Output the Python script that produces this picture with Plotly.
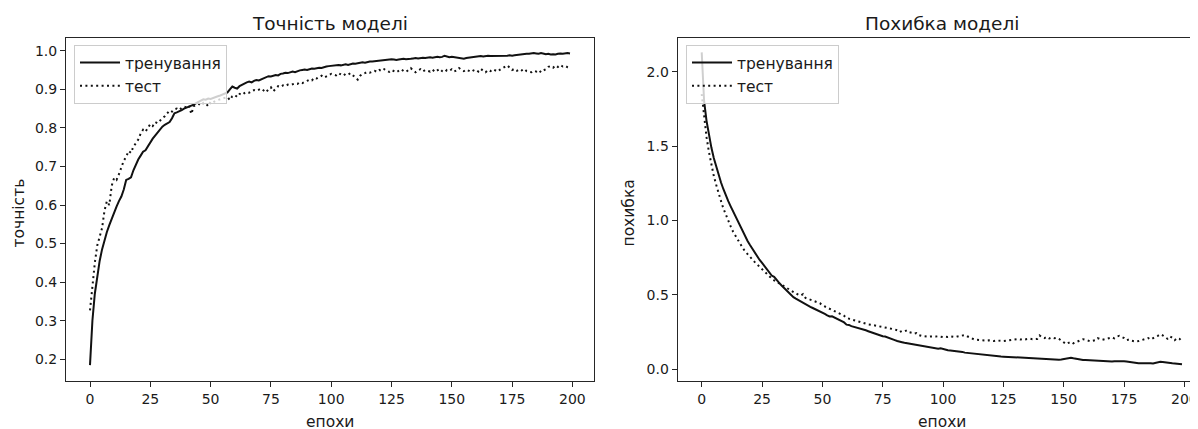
import plotly.graph_objects as go

W, H = 1198, 429

epochs = list(range(200))

acc_train = [
    0.185, 0.300, 0.370, 0.420, 0.455, 0.485, 0.510, 0.530, 0.548, 0.565,
    0.580, 0.596, 0.610, 0.622, 0.640, 0.665, 0.668, 0.672, 0.690, 0.705,
    0.718, 0.728, 0.738, 0.742, 0.752, 0.765, 0.772, 0.780, 0.788, 0.795,
    0.803, 0.808, 0.812, 0.815, 0.825, 0.838, 0.840, 0.842, 0.846, 0.850,
    0.852, 0.855, 0.858, 0.860, 0.864, 0.868, 0.870, 0.874, 0.873, 0.876,
    0.875, 0.878, 0.880, 0.882, 0.884, 0.886, 0.888, 0.892, 0.900, 0.907,
    0.904, 0.902, 0.908, 0.912, 0.915, 0.918, 0.920, 0.918, 0.922, 0.924,
    0.923, 0.926, 0.928, 0.932, 0.934, 0.933, 0.935, 0.937, 0.936, 0.940,
    0.941, 0.943, 0.942, 0.945, 0.946, 0.944, 0.947, 0.949, 0.950, 0.951,
    0.950, 0.952, 0.954, 0.953, 0.955, 0.956, 0.955, 0.958, 0.959, 0.960,
    0.961, 0.960, 0.962, 0.963, 0.962, 0.964, 0.965, 0.963, 0.966, 0.967,
    0.966, 0.968, 0.969, 0.970, 0.969, 0.971, 0.972, 0.972, 0.973, 0.974,
    0.974, 0.975, 0.976, 0.976, 0.977, 0.978, 0.977, 0.976, 0.977, 0.978,
    0.979, 0.978, 0.978, 0.979, 0.980, 0.981, 0.980, 0.981, 0.982, 0.981,
    0.982, 0.983, 0.982, 0.983, 0.984, 0.983, 0.984, 0.987, 0.984, 0.983,
    0.984, 0.983, 0.982, 0.981, 0.980, 0.979, 0.981, 0.982, 0.983, 0.984,
    0.985, 0.985, 0.986, 0.985, 0.986, 0.987, 0.986, 0.986, 0.987, 0.986,
    0.987, 0.986, 0.987, 0.987, 0.988, 0.987, 0.988, 0.989, 0.990, 0.990,
    0.991, 0.992, 0.992, 0.993, 0.994, 0.993, 0.992, 0.994, 0.993, 0.991,
    0.992, 0.990, 0.991, 0.990, 0.992, 0.993, 0.992, 0.993, 0.994, 0.993,
]

acc_test = [
    0.327, 0.395, 0.450, 0.495, 0.515, 0.540, 0.585, 0.610, 0.600, 0.650,
    0.670, 0.665, 0.680, 0.700, 0.715, 0.725, 0.740, 0.735, 0.752, 0.760,
    0.770, 0.785, 0.795, 0.790, 0.800, 0.810, 0.805, 0.815, 0.812, 0.820,
    0.825, 0.830, 0.838, 0.845, 0.842, 0.848, 0.850, 0.846, 0.852, 0.855,
    0.853, 0.858, 0.836, 0.856, 0.860, 0.862, 0.858, 0.865, 0.864, 0.856,
    0.868, 0.866, 0.870, 0.872, 0.874, 0.876, 0.878, 0.880, 0.872, 0.882,
    0.885, 0.880, 0.888, 0.885, 0.890, 0.893, 0.891, 0.895, 0.898, 0.896,
    0.900, 0.902, 0.897, 0.892, 0.900, 0.905, 0.895, 0.903, 0.908, 0.906,
    0.910, 0.908, 0.912, 0.911, 0.913, 0.915, 0.914, 0.918, 0.916, 0.920,
    0.922, 0.925, 0.923, 0.930, 0.928, 0.932, 0.935, 0.930, 0.934, 0.938,
    0.940, 0.938, 0.936, 0.942, 0.939, 0.935, 0.940, 0.938, 0.942, 0.936,
    0.930, 0.925, 0.935, 0.940, 0.942, 0.945, 0.943, 0.946, 0.948, 0.945,
    0.950, 0.947, 0.952, 0.948, 0.945, 0.950, 0.946, 0.944, 0.948, 0.952,
    0.947, 0.945, 0.950, 0.955, 0.948, 0.944, 0.949, 0.952, 0.946, 0.950,
    0.948, 0.946, 0.951, 0.945, 0.949, 0.953, 0.947, 0.944, 0.950, 0.948,
    0.952, 0.946, 0.949, 0.955, 0.950, 0.947, 0.951, 0.948, 0.945, 0.949,
    0.951, 0.946, 0.953, 0.948, 0.944, 0.950, 0.947, 0.952, 0.949, 0.946,
    0.951, 0.955, 0.958, 0.962, 0.956, 0.950, 0.953, 0.948, 0.952, 0.949,
    0.953, 0.947, 0.945, 0.944, 0.948, 0.946, 0.950, 0.944, 0.949, 0.952,
    0.958, 0.960, 0.956, 0.962, 0.958, 0.963, 0.959, 0.961, 0.957, 0.955,
]

loss_train = [
    2.130, 1.800, 1.670, 1.570, 1.490, 1.420, 1.360, 1.300, 1.255, 1.210,
    1.165, 1.130, 1.095, 1.060, 1.025, 0.990, 0.958, 0.926, 0.895, 0.862,
    0.835, 0.808, 0.782, 0.758, 0.735, 0.715, 0.695, 0.672, 0.650, 0.630,
    0.622, 0.600, 0.582, 0.565, 0.548, 0.530, 0.515, 0.502, 0.485, 0.475,
    0.465, 0.455, 0.445, 0.436, 0.428, 0.420, 0.412, 0.405, 0.398, 0.390,
    0.382, 0.372, 0.362, 0.355, 0.356, 0.348, 0.338, 0.332, 0.325, 0.315,
    0.300, 0.298, 0.290, 0.286, 0.282, 0.276, 0.272, 0.268, 0.262, 0.256,
    0.250, 0.246, 0.240, 0.232, 0.226, 0.222, 0.220, 0.215, 0.210, 0.206,
    0.196, 0.190, 0.184, 0.182, 0.178, 0.175, 0.176, 0.170, 0.166, 0.164,
    0.160, 0.158, 0.155, 0.152, 0.150, 0.146, 0.142, 0.140, 0.138, 0.141,
    0.136, 0.130, 0.128, 0.126, 0.124, 0.122, 0.120, 0.121, 0.117, 0.112,
    0.110, 0.108, 0.106, 0.104, 0.102, 0.100, 0.098, 0.096, 0.094, 0.093,
    0.092, 0.090, 0.089, 0.087, 0.086, 0.085, 0.084, 0.083, 0.082, 0.080,
    0.079, 0.078, 0.080, 0.077, 0.075, 0.074, 0.073, 0.072, 0.071, 0.070,
    0.069, 0.070, 0.068, 0.068, 0.067, 0.069, 0.066, 0.065, 0.064, 0.066,
    0.068, 0.072, 0.075, 0.078, 0.074, 0.070, 0.067, 0.065, 0.063, 0.062,
    0.061, 0.060, 0.058, 0.059, 0.057, 0.056, 0.055, 0.053, 0.052, 0.051,
    0.052, 0.054, 0.055, 0.053, 0.056, 0.054, 0.052, 0.049, 0.047, 0.045,
    0.043, 0.041, 0.040, 0.041, 0.040, 0.042, 0.041, 0.039, 0.043, 0.046,
    0.050, 0.049, 0.046, 0.044, 0.042, 0.040, 0.039, 0.037, 0.035, 0.034,
]

loss_test = [
    1.850, 1.700, 1.560, 1.460, 1.370, 1.300, 1.240, 1.180, 1.130, 1.080,
    1.035, 0.995, 0.960, 0.925, 0.895, 0.865, 0.840, 0.815, 0.792, 0.772,
    0.755, 0.738, 0.720, 0.704, 0.688, 0.672, 0.655, 0.640, 0.622, 0.610,
    0.598, 0.588, 0.578, 0.565, 0.555, 0.545, 0.535, 0.526, 0.518, 0.510,
    0.502, 0.495, 0.505, 0.480, 0.474, 0.468, 0.460, 0.455, 0.450, 0.444,
    0.430, 0.422, 0.414, 0.406, 0.400, 0.392, 0.385, 0.378, 0.368, 0.360,
    0.345, 0.340, 0.335, 0.330, 0.325, 0.320, 0.314, 0.310, 0.306, 0.302,
    0.300, 0.297, 0.295, 0.292, 0.289, 0.286, 0.284, 0.282, 0.279, 0.276,
    0.268, 0.262, 0.250, 0.258, 0.255, 0.262, 0.250, 0.246, 0.240, 0.244,
    0.230, 0.225, 0.222, 0.220, 0.219, 0.221, 0.218, 0.220, 0.222, 0.219,
    0.216, 0.220, 0.218, 0.222, 0.219, 0.217, 0.221, 0.223, 0.225, 0.230,
    0.222, 0.215, 0.206, 0.200, 0.198, 0.196, 0.194, 0.195, 0.193, 0.195,
    0.192, 0.190, 0.194, 0.191, 0.193, 0.190, 0.192, 0.195, 0.198, 0.202,
    0.205, 0.203, 0.200, 0.204, 0.201, 0.203, 0.206, 0.202, 0.205, 0.204,
    0.228, 0.215, 0.210, 0.218, 0.207, 0.213, 0.209, 0.212, 0.205, 0.195,
    0.180, 0.170, 0.178, 0.185, 0.175, 0.182, 0.190, 0.196, 0.202, 0.198,
    0.193, 0.188, 0.192, 0.196, 0.210, 0.205, 0.198, 0.202, 0.206, 0.212,
    0.215, 0.208, 0.220, 0.225, 0.218, 0.210, 0.195, 0.200, 0.192, 0.188,
    0.186, 0.190, 0.195, 0.200, 0.205, 0.210, 0.200, 0.212, 0.218, 0.225,
    0.235, 0.228, 0.215, 0.205, 0.222, 0.212, 0.196, 0.210, 0.205, 0.186,
]

series_names = ["тренування", "тест"]
titles = ["Точність моделі", "Похибка моделі"]
xlabel = "епохи"
ylabels = ["точність", "похибка"]

FONT = "DejaVu Sans"
TXT = "#1a1a1a"
AX = "#262626"

# the page body adds an 8px margin; work in screen pixels and shift
OFF = 8.0


def px_x(p):
    return (p - OFF) / W


def px_y(p):
    return 1 - (p - OFF) / H


fig = go.Figure()

solid = dict(color="#111111", width=2)
dotted = dict(color="#111111", width=2, dash="2px,3.4px")

fig.add_trace(go.Scatter(x=epochs, y=acc_train, mode="lines", name=series_names[0],
                         line=solid, xaxis="x", yaxis="y", legend="legend"))
fig.add_trace(go.Scatter(x=epochs, y=acc_test, mode="lines", name=series_names[1],
                         line=dotted, xaxis="x", yaxis="y", legend="legend"))
fig.add_trace(go.Scatter(x=epochs, y=loss_train, mode="lines", name=series_names[0],
                         line=solid, xaxis="x2", yaxis="y2", legend="legend2"))
fig.add_trace(go.Scatter(x=epochs, y=loss_test, mode="lines", name=series_names[1],
                         line=dotted, xaxis="x2", yaxis="y2", legend="legend2"))

# screen-pixel geometry of the reference
top_px, bot_px = 37.7, 381.0
L1, R1 = 66.0, 594.0
L2, R2 = 677.7, 1206.0
ydom = [px_y(bot_px), px_y(top_px)]

axis_common = dict(
    showgrid=False, zeroline=False, showline=True, linecolor=AX, linewidth=1.1,
    ticks="outside", ticklen=5, tickwidth=1.1, tickcolor=AX,
    tickfont=dict(family=FONT, size=14, color=TXT), mirror=True,
)

legend_common = dict(
    xanchor="left", yanchor="top",
    bgcolor="rgba(255,255,255,0.8)", bordercolor="#cccccc", borderwidth=1,
    font=dict(family=FONT, size=15.5, color=TXT), itemwidth=40,
)

fig.update_layout(
    width=W, height=H, autosize=False,
    margin=dict(l=0, r=0, t=0, b=0),
    paper_bgcolor="white", plot_bgcolor="white",
    font=dict(family=FONT, size=14, color=TXT),
    xaxis=dict(domain=[px_x(L1), px_x(R1)], range=[-9.95, 208.95], tick0=0, dtick=25,
               anchor="y", **axis_common),
    yaxis=dict(domain=ydom, range=[0.1438, 1.0337], tick0=0.2, dtick=0.1, tickformat=".1f",
               anchor="x", **axis_common),
    xaxis2=dict(domain=[px_x(L2), min(1.0, px_x(R2))], range=[-9.95, 208.95], tick0=0, dtick=25,
                anchor="y2", **axis_common),
    yaxis2=dict(domain=ydom, range=[-0.0786, 2.2285], tick0=0, dtick=0.5, tickformat=".1f",
                anchor="x2", **axis_common),
    legend=dict(x=px_x(74), y=px_y(45), **legend_common),
    legend2=dict(x=px_x(686), y=px_y(45), **legend_common),
    showlegend=True,
)

c1 = (L1 + R1) / 2
c2 = (L2 + R2) / 2
ann = []
for cx, t in zip([c1, c2], titles):
    ann.append(dict(x=px_x(cx), y=px_y(23.3), xref="paper", yref="paper", text=t,
                    showarrow=False, xanchor="center", yanchor="middle",
                    font=dict(family=FONT, size=18.5, color=TXT)))
    ann.append(dict(x=px_x(cx), y=px_y(422), xref="paper", yref="paper", text=xlabel,
                    showarrow=False, xanchor="center", yanchor="middle",
                    font=dict(family=FONT, size=15.5, color=TXT)))
for lx, t in zip([19.0, 629.0], ylabels):
    ann.append(dict(x=px_x(lx), y=px_y(213.5), xref="paper", yref="paper",
                    text=t, textangle=-90, showarrow=False, xanchor="center", yanchor="middle",
                    font=dict(family=FONT, size=15.5, color=TXT)))
fig.update_layout(annotations=ann)

fig.write_html("out.html")
